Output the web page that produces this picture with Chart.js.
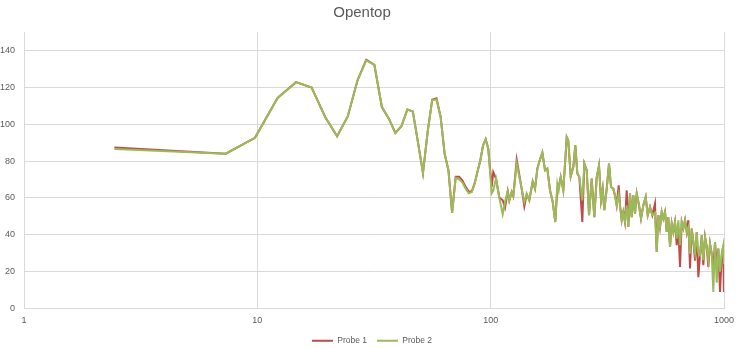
<!DOCTYPE html>
<html>
<head>
<meta charset="utf-8">
<script src="https://cdn.jsdelivr.net/npm/chart.js@4.4.1/dist/chart.umd.min.js"></script>
<style>
  html, body { margin: 0; padding: 0; background: #ffffff; }
  #wrap { width: 738px; height: 348px; }
</style>
</head>
<body>
<div id="wrap"><canvas id="c" width="738" height="348"></canvas></div>
<script>
// ---- Data ----
const chartTitle = "Opentop";
const seriesNames = ["Probe 1", "Probe 2"];
const xTickValues = [1, 10, 100, 1000];
const xTickLabels = ["1", "10", "100", "1000"];
const yTickValues = [0, 20, 40, 60, 80, 100, 120, 140];

// frequency (x) values
const freqHz = [
  2.44, 7.32, 9.77, 12.21, 14.65, 17.09, 19.53, 21.97, 24.41, 26.86,
  29.30, 31.74, 34.18, 36.62, 39.06, 41.50, 43.95, 46.39, 48.83, 51.27,
  53.71, 56.15, 58.59, 61.04, 63.48, 65.92, 68.36, 70.80, 73.24, 75.68,
  78.13, 80.57, 83.01, 85.45, 87.89, 90.33, 92.77, 95.21, 97.66,
  101.0, 102.6, 105.4, 108.9, 112.6, 115.2, 118.3, 120.2, 123.1, 125.0,
  129.3, 135.8, 139.4, 142.7, 146.4, 151.4, 154.9, 158.5, 162.7, 166.5,
  171.0, 174.9, 179.6, 184.5, 189.2, 193.0, 195.7, 199.6, 204.8, 211.8,
  215.1, 220.3, 226.0, 230.6, 235.2, 239.9, 247.1, 252.0, 258.0, 264.0,
  271.0, 278.1, 284.8, 291.3, 297.1, 302.1, 306.9, 314.3, 321.5, 327.9,
  335.4, 342.1, 346.8, 353.8, 358.3, 364.4, 370.2, 376.4, 382.8, 388.9,
  395.5, 402.2, 408.6, 415.5, 422.6, 432.3, 440.9, 451.1, 461.8, 471.0,
  481.9, 492.9, 506.2, 514.8, 523.0, 531.8, 540.8, 549.5, 558.8, 568.3,
  577.3, 587.1, 597.0, 606.5, 616.6, 627.1, 637.2, 647.9, 658.8, 669.4,
  680.7, 692.3, 703.2, 715.1, 727.3, 739.0, 751.5, 764.3, 776.2, 789.4,
  802.8, 815.5, 829.3, 843.4, 856.7, 871.0, 885.8, 900.0, 915.1, 930.6,
  945.4, 961.4, 977.7, 993.1, 999.0
];

// Probe 1 (red)
const probe1 = [
  87.3, 84.0, 92.6, 114.2, 122.8, 119.8, 103.9, 93.4, 104.2, 123.7,
  135.0, 132.2, 109.3, 103.0, 95.2, 99.0, 108.0, 106.9, 90.0, 73.5,
  96.0, 113.3, 114.0, 103.9, 84.0, 75.0, 51.8, 71.5, 71.5, 69.4,
  66.0, 63.5, 63.5, 68.0, 74.5, 80.4, 88.5, 91.8, 86.7,
  66.0, 74.0, 70.5, 60.2, 58.7, 54.7, 63.6, 58.7, 63.2, 60.9,
  80.8, 65.0, 55.4, 62.0, 58.7, 69.0, 65.0, 75.9, 80.8, 84.6,
  75.0, 75.9, 64.1, 57.8, 46.9, 65.0, 65.9, 71.3, 64.1, 93.0,
  91.2, 71.7, 76.7, 88.5, 73.2, 71.3, 46.9, 78.6, 75.0, 50.6,
  70.5, 49.6, 71.3, 77.7, 58.7, 65.0, 53.3, 65.0, 78.6, 65.9,
  65.0, 60.5, 56.0, 66.8, 56.0, 47.9, 52.4, 47.0, 64.1, 44.2,
  62.3, 49.6, 61.4, 51.5, 62.3, 56.0, 48.8, 56.0, 60.5, 50.6,
  55.1, 50.6, 56.9, 30.7, 50.6, 44.2, 52.4, 48.8, 52.4, 41.5,
  49.6, 33.4, 46.1, 41.5, 46.9, 34.3, 43.4, 22.5, 46.9, 43.4,
  47.9, 41.5, 47.9, 21.7, 43.4, 36.1, 26.0, 41.5, 17.0, 28.9,
  39.7, 23.5, 38.8, 33.4, 22.5, 35.2, 29.8, 22.0, 36.1, 24.0,
  32.5, 9.0, 28.0, 34.3, 9.0
];

// Probe 2 (green)
const probe2 = [
  86.5, 84.0, 92.6, 114.2, 122.8, 119.8, 103.9, 93.4, 104.2, 123.7,
  134.6, 132.2, 109.3, 103.0, 95.2, 99.0, 108.0, 106.9, 90.0, 73.5,
  96.0, 112.9, 113.4, 103.9, 84.0, 75.0, 51.8, 70.8, 70.1, 68.3,
  65.0, 62.5, 63.2, 68.0, 74.5, 80.4, 88.5, 91.8, 86.7,
  62.5, 64.0, 70.5, 60.2, 51.1, 57.8, 63.6, 58.7, 63.2, 60.9,
  78.6, 65.0, 57.8, 62.0, 58.7, 69.0, 65.0, 75.9, 80.8, 84.6,
  75.0, 75.9, 64.1, 57.8, 46.9, 67.7, 64.0, 71.3, 64.1, 93.0,
  91.2, 71.7, 76.7, 88.5, 73.2, 71.3, 58.7, 78.6, 75.0, 50.6,
  70.5, 49.6, 71.3, 77.7, 58.7, 65.0, 53.3, 65.0, 78.6, 65.9,
  65.0, 60.5, 56.0, 62.0, 56.0, 47.9, 52.4, 47.0, 56.0, 44.2,
  62.3, 49.6, 61.4, 51.5, 62.3, 56.0, 48.8, 56.0, 60.5, 50.6,
  55.1, 50.6, 52.0, 30.7, 50.6, 44.2, 52.4, 48.8, 52.4, 41.5,
  49.6, 33.4, 46.1, 41.5, 46.9, 37.9, 47.9, 34.3, 46.9, 43.4,
  47.9, 41.5, 44.0, 29.8, 43.4, 36.1, 30.0, 41.5, 30.0, 28.9,
  39.7, 26.2, 38.8, 33.4, 26.0, 35.2, 29.8, 9.0, 36.1, 14.0,
  32.5, 20.0, 30.0, 34.3, 24.0
];

// ---- Styling ----
const colors = ["#be4b48", "#9bbb59"];
const textColor = "#595959";
const gridColor = "#d9d9d9";
const fontFamily = "'Liberation Sans', Arial, sans-serif";

const toPoints = (ys) => freqHz.map((f, i) => ({ x: f, y: ys[i] }));

// nudge the legend row so it is centred like the reference
const legendShift = {
  id: "legendShift",
  beforeDraw(chart) {
    const lg = chart.legend;
    if (lg && !lg._shifted) { lg.left += 10; lg.right += 10; lg._shifted = true; }
  }
};

new Chart(document.getElementById("c"), {
  type: "line",
  data: {
    datasets: [
      { label: seriesNames[0], data: toPoints(probe1), borderColor: colors[0], backgroundColor: colors[0],
        borderWidth: 2, pointRadius: 0, tension: 0, fill: false, order: 1 },
      { label: seriesNames[1], data: toPoints(probe2), borderColor: colors[1], backgroundColor: colors[1],
        borderWidth: 2, pointRadius: 0, tension: 0, fill: false, order: 0 }
    ]
  },
  plugins: [legendShift],
  options: {
    responsive: false,
    animation: false,
    devicePixelRatio: 1,
    layout: { padding: { left: 0, right: 14, top: 0, bottom: -7 } },
    plugins: {
      title: {
        display: true, text: chartTitle, color: textColor,
        font: { family: fontFamily, size: 15, weight: "normal" },
        padding: { top: 4, bottom: 10 }
      },
      legend: {
        position: "bottom",
        labels: {
          usePointStyle: true, pointStyle: "line", pointStyleWidth: 21,
          padding: 10, color: textColor,
          font: { family: fontFamily, size: 8.5 },
          sort: (a, b) => a.datasetIndex - b.datasetIndex
        }
      },
      tooltip: { enabled: false }
    },
    scales: {
      x: {
        type: "logarithmic", min: 1, max: 1000,
        afterBuildTicks: (s) => { s.ticks = xTickValues.map(v => ({ value: v })); },
        afterFit: (s) => { s.height = 18; s.paddingLeft = 0; s.paddingRight = 0; },
        ticks: {
          autoSkip: false, maxRotation: 0, padding: 7, color: textColor,
          font: { family: fontFamily, size: 9 },
          callback: (v, i) => xTickLabels[i]
        },
        grid: { color: gridColor, lineWidth: 1, drawTicks: false },
        border: { color: gridColor }
      },
      y: {
        min: 0, max: 150,
        afterBuildTicks: (s) => { s.ticks = yTickValues.map(v => ({ value: v })); },
        afterFit: (s) => { s.width = 24; s.paddingTop = 0; s.paddingBottom = 0; },
        ticks: {
          padding: 9, color: textColor,
          font: { family: fontFamily, size: 9 },
          callback: (v) => String(v)
        },
        grid: { color: gridColor, lineWidth: 1, drawTicks: false },
        border: { color: gridColor }
      }
    }
  }
});
</script>
</body>
</html>
